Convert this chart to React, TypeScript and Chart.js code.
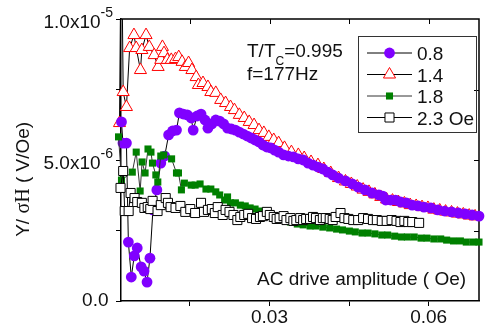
import React, { useEffect, useRef } from 'react';
import { Chart, registerables } from 'chart.js';

Chart.register(...registerables);

// y values are given in units of 1e-6 V/Oe
const Y_UNIT = 1e-6;

const SERIES_LABELS = ['0.8', '1.4', '1.8', '2.3 Oe'];

// H = 0.8 Oe (purple circles)
const s08: [number, number][] = [
  [0.00209, 6.35], [0.00237, 5.6], [0.00302, 5.6], [0.00339, 2.09], [0.00394, 0.85], [0.0045, 1.6],
  [0.00506, 1.88], [0.0058, 1.21], [0.00635, 1.06], [0.00691, 0.67], [0.00746, 1.52], [0.00802, 3.23],
  [0.00876, 3.94], [0.0095, 4.89], [0.01024, 5.14], [0.01098, 5.89], [0.01172, 6.03], [0.01246, 6.06],
  [0.01302, 6.67], [0.01376, 6.63], [0.0145, 6.6], [0.01524, 6.49], [0.01561, 6.06], [0.01635, 6.56],
  [0.01709, 6.63], [0.01783, 6.42], [0.01839, 6.13], [0.01913, 6.28], [0.01987, 6.42], [0.02061, 6.38],
  [0.02135, 6.28], [0.02209, 6.13], [0.02283, 6.1], [0.02357, 6.06], [0.02431, 5.99], [0.02506, 5.92],
  [0.0258, 5.85], [0.02654, 5.78], [0.02728, 5.71], [0.02802, 5.64], [0.02876, 5.53], [0.0295, 5.46],
  [0.03024, 5.43], [0.03098, 5.35], [0.03172, 5.28], [0.03265, 5.18], [0.03357, 5.14], [0.0345, 5.11],
  [0.03543, 5.04], [0.03635, 5.0], [0.03728, 4.89], [0.03821, 4.82], [0.03913, 4.75], [0.04006, 4.68],
  [0.04098, 4.57], [0.04191, 4.47], [0.04302, 4.36], [0.04432, 4.26], [0.04561, 4.15], [0.04672, 4.04],
  [0.04802, 3.94], [0.04932, 3.83], [0.05061, 3.76], [0.05136, 3.72], [0.05191, 3.58], [0.05284, 3.58],
  [0.05376, 3.58], [0.05469, 3.51], [0.0558, 3.48], [0.05691, 3.4], [0.05802, 3.37], [0.05913, 3.33],
  [0.06043, 3.3], [0.06173, 3.23], [0.06302, 3.19], [0.06432, 3.16], [0.06561, 3.12], [0.06691, 3.09],
  [0.0682, 3.05], [0.0695, 3.01],
];

// H = 1.4 Oe (red open triangles)
const s14: [number, number][] = [
  [0.00172, 6.31], [0.00206, 14.0], [0.00241, 7.41], [0.00302, 6.88], [0.00363, 8.97], [0.00444, 9.43],
  [0.00487, 8.97], [0.00567, 8.19], [0.00593, 8.9], [0.00672, 9.43], [0.00733, 9.01], [0.00826, 8.72],
  [0.009, 8.3], [0.0095, 8.55], [0.00981, 9.01], [0.01011, 8.79], [0.01074, 8.55], [0.01148, 8.55],
  [0.01228, 8.58], [0.01289, 8.65], [0.01352, 8.48], [0.01413, 8.3], [0.01474, 8.44], [0.01537, 8.19],
  [0.01617, 7.94], [0.01659, 7.66], [0.01746, 7.73], [0.01839, 7.59], [0.01894, 7.41], [0.01987, 7.38],
  [0.0208, 7.13], [0.02172, 7.02], [0.02265, 6.88], [0.02339, 6.77], [0.02431, 6.6], [0.02524, 6.49],
  [0.02617, 6.35], [0.02709, 6.24], [0.02802, 6.06], [0.02894, 5.96], [0.02987, 5.82], [0.0308, 5.71],
  [0.03172, 5.6], [0.03283, 5.43], [0.03413, 5.28], [0.03543, 5.18], [0.03654, 5.07], [0.03783, 4.93],
  [0.03913, 4.82], [0.04024, 4.68], [0.04154, 4.54], [0.04302, 4.36], [0.04432, 4.24], [0.04543, 4.15],
  [0.04654, 4.06], [0.04765, 3.95], [0.04876, 3.87], [0.04987, 3.78], [0.05098, 3.69], [0.05208, 3.6],
  [0.05319, 3.56], [0.0543, 3.51], [0.05543, 3.46], [0.05654, 3.4], [0.05765, 3.37], [0.05876, 3.33],
  [0.05987, 3.3], [0.06099, 3.24], [0.0621, 3.21], [0.0632, 3.17], [0.06432, 3.14], [0.06543, 3.1],
  [0.06654, 3.07], [0.06765, 3.03], [0.06876, 3.0],
];

// H = 1.8 Oe (green filled squares)
const s18: [number, number][] = [
  [0.00154, 5.82], [0.00209, 4.29], [0.00413, 4.57], [0.00487, 5.28], [0.00561, 3.9], [0.00598, 4.93],
  [0.00654, 4.54], [0.00709, 5.39], [0.00765, 5.28], [0.00793, 4.89], [0.00857, 4.47], [0.00894, 4.22],
  [0.0095, 5.14], [0.01006, 5.18], [0.01154, 5.04], [0.01246, 4.54], [0.01283, 4.54], [0.01339, 3.94],
  [0.01395, 4.18], [0.01524, 4.11], [0.01598, 4.11], [0.01691, 4.15], [0.01802, 3.97], [0.01894, 3.97],
  [0.01987, 3.87], [0.02061, 3.76], [0.02154, 3.58], [0.02209, 3.69], [0.02265, 3.48], [0.02357, 3.48],
  [0.0245, 3.4], [0.02543, 3.37], [0.02635, 3.3], [0.02728, 3.26], [0.0282, 3.19], [0.02913, 3.12],
  [0.03006, 3.05], [0.03135, 2.98], [0.03265, 2.91], [0.03394, 2.8], [0.03524, 2.73], [0.03635, 2.7],
  [0.03765, 2.66], [0.03876, 2.66], [0.04006, 2.62], [0.04135, 2.59], [0.04265, 2.55], [0.04376, 2.52],
  [0.04506, 2.48], [0.04617, 2.45], [0.04746, 2.41], [0.04858, 2.41], [0.04987, 2.38], [0.05117, 2.34],
  [0.05228, 2.34], [0.0536, 2.3], [0.05488, 2.27], [0.05599, 2.27], [0.05728, 2.27], [0.05858, 2.23],
  [0.05969, 2.23], [0.06099, 2.2], [0.06228, 2.2], [0.0634, 2.16], [0.06469, 2.13], [0.06599, 2.13],
  [0.0671, 2.09], [0.0684, 2.09], [0.0695, 2.09],
];

// H = 2.3 Oe (open squares)
const s23: [number, number][] = [
  [0.00154, 2.94], [0.00191, 4.01], [0.00241, 4.61], [0.0027, 3.19], [0.00344, 3.19], [0.00381, 3.83],
  [0.00456, 3.65], [0.00506, 3.51], [0.00593, 3.48], [0.00641, 3.3], [0.00704, 3.33], [0.00752, 3.26],
  [0.00796, 3.55], [0.00889, 3.19], [0.0095, 3.4], [0.01043, 3.65], [0.01085, 3.48], [0.01135, 3.33],
  [0.01228, 3.3], [0.0132, 3.37], [0.01413, 3.16], [0.01506, 3.26], [0.01598, 3.12], [0.01709, 3.48],
  [0.01765, 3.16], [0.01839, 3.23], [0.01913, 3.26], [0.01969, 3.12], [0.02024, 3.33], [0.02117, 3.05],
  [0.02172, 3.23], [0.02246, 3.16], [0.0232, 3.05], [0.02394, 2.87], [0.0245, 2.98], [0.02524, 3.05],
  [0.02598, 3.09], [0.02672, 2.94], [0.02746, 2.91], [0.0282, 2.98], [0.02876, 3.01], [0.0295, 3.16],
  [0.03006, 3.05], [0.0308, 2.98], [0.03135, 2.91], [0.03191, 2.94], [0.03265, 3.01], [0.0332, 2.87],
  [0.03394, 2.94], [0.0345, 2.84], [0.03506, 2.87], [0.0358, 2.94], [0.03635, 2.87], [0.03691, 2.91],
  [0.03765, 2.91], [0.03821, 2.98], [0.03876, 2.94], [0.0395, 2.87], [0.04006, 2.94], [0.04061, 2.94],
  [0.04135, 2.91], [0.04191, 2.87], [0.04247, 2.98], [0.04339, 3.12], [0.04413, 2.94], [0.04487, 2.91],
  [0.0458, 2.87], [0.04672, 2.87], [0.04765, 2.94], [0.04858, 2.91], [0.0495, 2.87], [0.05024, 2.87],
  [0.05117, 2.84], [0.0521, 2.84], [0.05302, 2.87], [0.05395, 2.84], [0.05469, 2.8], [0.05543, 2.84],
  [0.05617, 2.8], [0.05691, 2.8], [0.05821, 2.77],
];

const X_TICKS = [0.015, 0.03, 0.045, 0.06];
const X_TICK_LABELS = ['', '0.03', '', '0.06'];
const Y_TICKS = [0, 2.5, 5, 7.5, 10];
const Y_TICK_BASE = ['0.0', '', '5.0x10', '', '1.0x10'];
const Y_TICK_EXP = ['', '', '-6', '', '-5'];

const X_MIN = 0.002;
const X_MAX = 0.0695;
const Y_MIN = 0;
const Y_MAX = 10;

const FONT = "'Liberation Sans', Arial, sans-serif";
const SERIF = "'Liberation Serif', 'Times New Roman', serif";

const toPts = (s: [number, number][]) => s.map(([x, y]) => ({ x, y }));

const STYLES = [
  { label: SERIES_LABELS[0], data: s08, pointStyle: 'circle', radius: 5.4, bg: '#8000ff', border: '#8000ff', bw: 0, line: '#000' },
  { label: SERIES_LABELS[1], data: s14, pointStyle: 'triangle', radius: 7, bg: '#ffffff', border: '#ff0000', bw: 1, line: '#000' },
  { label: SERIES_LABELS[2], data: s18, pointStyle: 'rect', radius: 5, bg: '#008000', border: '#008000', bw: 0, line: '#333' },
  { label: SERIES_LABELS[3], data: s23, pointStyle: 'rect', radius: 6.4, bg: '#ffffff', border: '#000', bw: 1, line: '#000' },
];
// draw order: open squares on top, then green, purple, red at bottom
const ORDER = [2, 3, 1, 0];

function drawMarker(ctx: CanvasRenderingContext2D, st: any, x: number, y: number) {
  ctx.save();
  ctx.fillStyle = st.bg;
  ctx.strokeStyle = st.border;
  ctx.lineWidth = st.bw || 1;
  ctx.beginPath();
  if (st.pointStyle === 'circle') {
    ctx.arc(x, y, st.radius, 0, Math.PI * 2);
    ctx.fill();
  } else if (st.pointStyle === 'triangle') {
    const r = st.radius;
    ctx.moveTo(x, y - r);
    ctx.lineTo(x + r * 0.866, y + r / 2);
    ctx.lineTo(x - r * 0.866, y + r / 2);
    ctx.closePath();
    ctx.fill();
    ctx.stroke();
  } else {
    const s = st.radius * Math.SQRT1_2;
    ctx.rect(x - s, y - s, 2 * s, 2 * s);
    ctx.fill();
    if (st.bw) ctx.stroke();
  }
  ctx.restore();
}

const decorPlugin = {
  id: 'decor',
  beforeDatasetsDraw(chart: any) {
    const { ctx, chartArea: a, scales } = chart;
    const xs = scales.x, ys = scales.y;
    ctx.save();
    ctx.strokeStyle = '#000';
    ctx.lineWidth = 1.5;
    ctx.beginPath();
    ctx.moveTo(a.left, a.top);
    ctx.lineTo(a.right, a.top);
    ctx.lineTo(a.right, a.bottom);
    ctx.stroke();
    ctx.lineWidth = 1;
    ctx.beginPath();
    X_TICKS.forEach((v) => {
      const px = Math.round(xs.getPixelForValue(v)) + 0.5;
      ctx.moveTo(px, a.top);
      ctx.lineTo(px, a.top + 5);
    });
    Y_TICKS.forEach((v) => {
      if (v === Y_MIN || v === Y_MAX) return;
      const py = Math.round(ys.getPixelForValue(v)) + 0.5;
      ctx.moveTo(a.right, py);
      ctx.lineTo(a.right - 5, py);
    });
    ctx.stroke();
    ctx.restore();
  },
  afterDraw(chart: any) {
    const { ctx, scales } = chart;
    const ys = scales.y;
    ctx.save();
    ctx.fillStyle = '#111';
    ctx.textBaseline = 'alphabetic';

    // y tick labels with superscript exponents
    Y_TICKS.forEach((v, i) => {
      const base = Y_TICK_BASE[i];
      if (!base) return;
      const exp = Y_TICK_EXP[i];
      const py = ys.getPixelForValue(v);
      ctx.textAlign = 'right';
      if (exp) {
        ctx.font = `14px ${FONT}`;
        const ew = ctx.measureText(exp).width;
        ctx.fillText(exp, 113, py - 2);
        ctx.font = `19px ${FONT}`;
        ctx.fillText(base, 113 - ew, py + 9);
      } else {
        ctx.font = `19px ${FONT}`;
        ctx.fillText(base, 108.5, py + 4.5);
      }
    });

    // y axis title (σH in a serif face, as in the original)
    ctx.save();
    ctx.translate(28.5, 180);
    ctx.rotate(-Math.PI / 2);
    const parts: [string, string][] = [['Y/ ', FONT], ['σH', SERIF], [' ( V/Oe)', FONT]];
    let total = 0;
    parts.forEach(([t, f]) => { ctx.font = `19px ${f}`; total += ctx.measureText(t).width; });
    let tx = -total / 2;
    ctx.textAlign = 'left';
    parts.forEach(([t, f]) => {
      ctx.font = `${f === SERIF ? 20 : 19}px ${f}`;
      ctx.fillText(t, tx, 0);
      tx += ctx.measureText(t).width;
    });
    ctx.restore();

    // x axis title inside plot
    ctx.textAlign = 'left';
    ctx.font = `19px ${FONT}`;
    ctx.fillText('AC drive amplitude ( Oe)', 257, 285);

    // annotation
    let x0 = 247;
    ctx.fillText('T/T', x0, 57);
    x0 += ctx.measureText('T/T').width;
    ctx.font = `12px ${FONT}`;
    ctx.fillText('C', x0, 65);
    x0 += ctx.measureText('C').width;
    ctx.font = `19px ${FONT}`;
    ctx.fillText('=0.995', x0, 57);
    ctx.fillText('f=177Hz', 247, 80);

    // legend
    ctx.strokeStyle = '#333';
    ctx.lineWidth = 1;
    ctx.strokeRect(358.5, 36.5, 118, 96);
    const rows = [53, 74.5, 96, 117.5];
    STYLES.forEach((st, i) => {
      const y = rows[i];
      ctx.strokeStyle = st.line;
      ctx.lineWidth = 1;
      ctx.beginPath();
      ctx.moveTo(367, y);
      ctx.lineTo(412, y);
      ctx.stroke();
      drawMarker(ctx, st, 389.5, y);
      ctx.fillStyle = '#111';
      ctx.font = `19px ${FONT}`;
      ctx.textAlign = 'left';
      ctx.fillText(st.label, 417, y + 7);
    });
    ctx.restore();
  },
};

export default function App() {
  const ref = useRef<HTMLCanvasElement>(null);
  useEffect(() => {
    if (!ref.current) return;
    Chart.defaults.font.family = FONT;
    const datasets = STYLES.map((st, i) => ({
      label: st.label,
      data: toPts(st.data),
      showLine: true,
      borderColor: st.line,
      borderWidth: 1,
      pointStyle: st.pointStyle,
      pointRadius: st.radius,
      pointHoverRadius: st.radius,
      pointBackgroundColor: st.bg,
      pointBorderColor: st.border,
      pointBorderWidth: st.bw,
      fill: false,
      tension: 0,
      order: ORDER[i],
      clip: { left: 10, top: 0, right: 6, bottom: 0 },
    }));
    const chart = new Chart(ref.current, {
      type: 'scatter',
      data: { datasets },
      options: {
        responsive: false,
        animation: false,
        events: [],
        layout: { padding: { top: 19, right: 1, left: 0, bottom: 0 } },
        plugins: { legend: { display: false }, tooltip: { enabled: false } },
        scales: {
          x: {
            type: 'linear',
            min: X_MIN,
            max: X_MAX,
            afterBuildTicks: (s: any) => { s.ticks = X_TICKS.map((value) => ({ value })); },
            afterFit: (s: any) => { s.height = 31; },
            ticks: {
              autoSkip: false,
              maxRotation: 0,
              padding: 0,
              color: '#111',
              font: { size: 19, family: FONT },
              callback: (_v: any, i: number) => X_TICK_LABELS[i],
            },
            grid: { drawOnChartArea: false, drawTicks: true, tickLength: 5, tickColor: '#000', tickWidth: 1 },
            border: { display: true, color: '#000', width: 1.5 },
          },
          y: {
            type: 'linear',
            min: Y_MIN,
            max: Y_MAX,
            afterBuildTicks: (s: any) => { s.ticks = Y_TICKS.map((value) => ({ value })); },
            afterFit: (s: any) => { s.width = 121; },
            ticks: {
              autoSkip: false,
              color: '#111',
              font: { size: 19, family: FONT },
              callback: () => '',
            },
            grid: { drawOnChartArea: false, drawTicks: true, tickLength: 5, tickColor: '#000', tickWidth: 1 },
            border: { display: true, color: '#000', width: 1.5 },
          },
        },
      },
      plugins: [decorPlugin],
    } as any);
    return () => chart.destroy();
  }, []);
  return (
    <div style={{ position: 'absolute', left: 0, top: 0, width: 487, height: 332, background: '#fff' }}>
      <canvas ref={ref} width={487} height={332} style={{ display: 'block', width: 487, height: 332 }} />
    </div>
  );
}
